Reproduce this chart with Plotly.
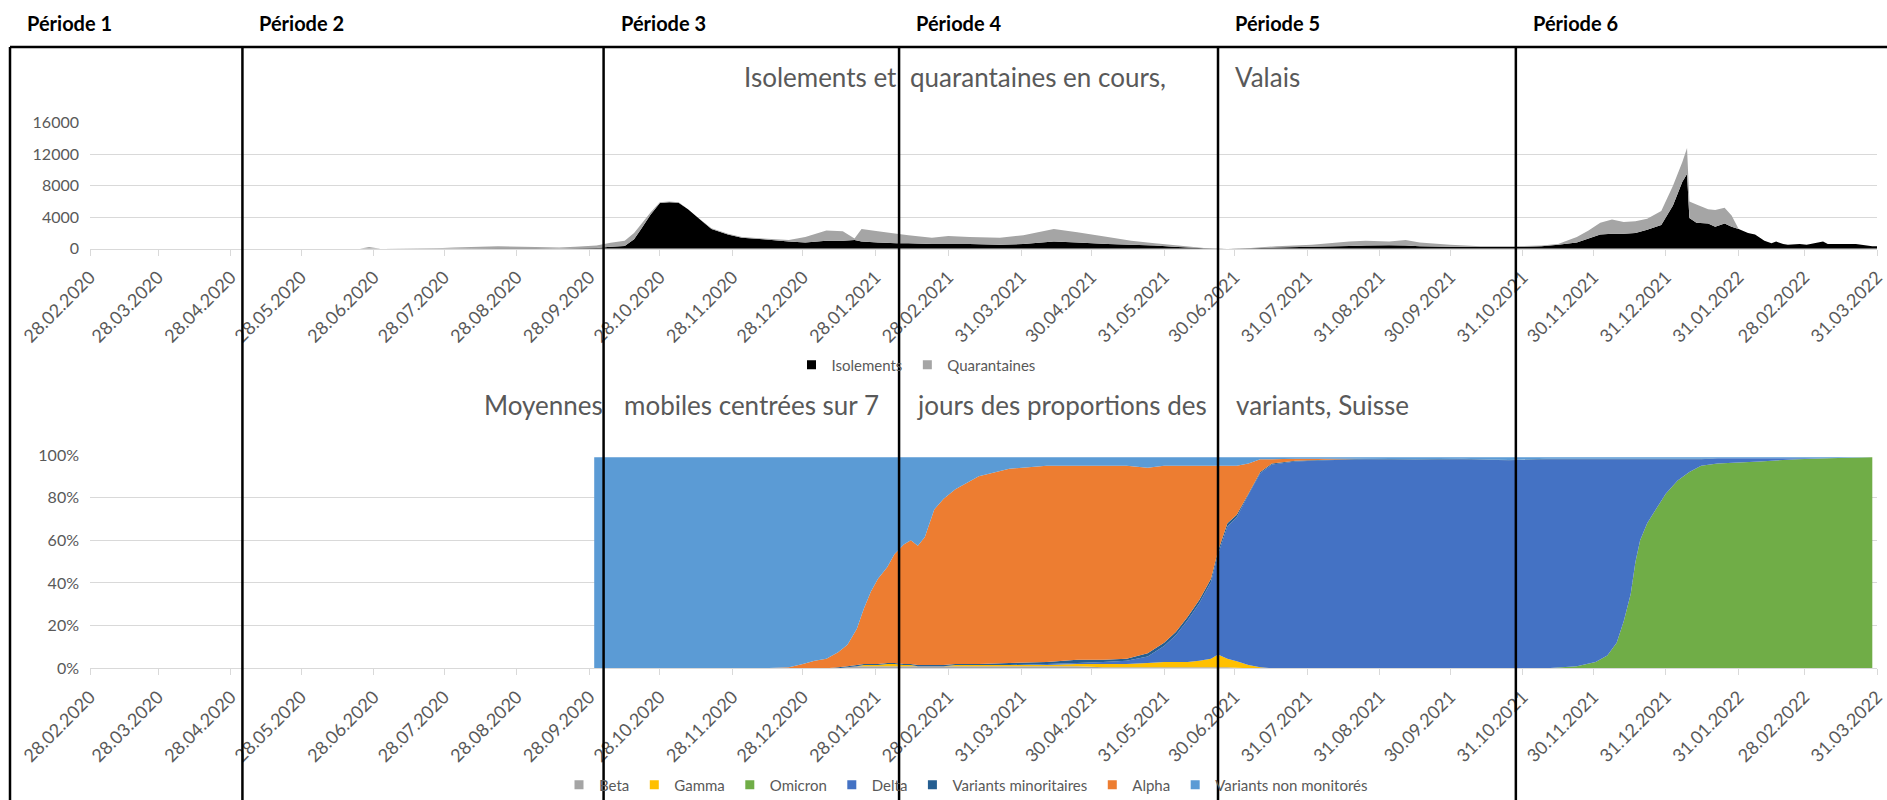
import plotly.graph_objects as go

W, H = 1887, 800
FONT = "Lato, 'Open Sans', 'Liberation Sans', sans-serif"
TXT = "#595959"
GRID = "#D9D9D9"

# ---- Isolements et quarantaines en cours, Valais ----
iso_dates = [
    "2020-02-28", "2020-06-22", "2020-06-26", "2020-07-01", "2020-07-25", "2020-08-01",
    "2020-08-20", "2020-09-05", "2020-09-15", "2020-09-22", "2020-10-01", "2020-10-07",
    "2020-10-13", "2020-10-17", "2020-10-20", "2020-10-24", "2020-10-28", "2020-11-01",
    "2020-11-05", "2020-11-09", "2020-11-13", "2020-11-19", "2020-11-26", "2020-12-02",
    "2020-12-11", "2020-12-22", "2020-12-29", "2021-01-07", "2021-01-14", "2021-01-19",
    "2021-01-22", "2021-01-29", "2021-02-06", "2021-02-11", "2021-02-21", "2021-02-28",
    "2021-03-09", "2021-03-22", "2021-04-01", "2021-04-14", "2021-04-24", "2021-05-07",
    "2021-05-17", "2021-05-27", "2021-06-06", "2021-06-17", "2021-06-27", "2021-07-07",
    "2021-07-18", "2021-08-02", "2021-08-18", "2021-08-25", "2021-09-04", "2021-09-11",
    "2021-09-17", "2021-09-30", "2021-10-13", "2021-10-26", "2021-11-08", "2021-11-15",
    "2021-11-23", "2021-11-28", "2021-12-03", "2021-12-08", "2021-12-13", "2021-12-18",
    "2021-12-23", "2021-12-29", "2022-01-03", "2022-01-07", "2022-01-09", "2022-01-10",
    "2022-01-13", "2022-01-18", "2022-01-21", "2022-01-25", "2022-01-28", "2022-01-31",
    "2022-02-04", "2022-02-07", "2022-02-11", "2022-02-14", "2022-02-16", "2022-02-19",
    "2022-02-21", "2022-02-26", "2022-03-01", "2022-03-08", "2022-03-10", "2022-03-16",
    "2022-03-22", "2022-03-29", "2022-03-31",
]
isolements = [
    0, 0, 20, 0, 10, 30,
    60, 50, 40, 60, 100, 250,
    350, 1200, 2500, 4300, 5800, 5900,
    5850, 5000, 4000, 2500, 1800, 1400,
    1200, 900, 800, 1000, 1000, 1100,
    900, 800, 700, 700, 600, 600,
    600, 500, 600, 900, 800, 600,
    500, 400, 200, 50, 0, 50,
    150, 250, 350, 400, 450, 400,
    300, 250, 200, 200, 300, 500,
    800, 1300, 1800, 1900, 1900, 2000,
    2400, 3000, 5500, 8500, 9500, 3900,
    3300, 3200, 2800, 3200, 2800, 2500,
    2000, 1800, 1000, 700, 900, 600,
    500, 600, 500, 900, 600, 600,
    600, 300, 300,
]
quarantaines = [
    0, 0, 180, 0, 40, 120,
    240, 150, 110, 190, 300, 500,
    650, 800, 600, 300, 100, 100,
    50, 0, 0, 100, 100, 100,
    100, 200, 700, 1300, 1200, 200,
    1600, 1400, 1200, 1000, 800, 1000,
    900, 900, 1100, 1600, 1300, 900,
    500, 300, 200, 50, 0, 50,
    150, 250, 550, 600, 450, 700,
    500, 250, 100, 100, 100, 100,
    700, 1000, 1500, 1800, 1500, 1500,
    1400, 1800, 2500, 2500, 3300, 2100,
    2300, 1800, 2100, 2000, 1400, 0,
    0, 0, 0, 0, 0, 0,
    0, 0, 0, 0, 0, 0,
    0, 0, 0,
]

# ---- Moyennes mobiles centrées sur 7 jours des proportions des variants, Suisse (%) ----
var_dates = [
    "2020-09-30", "2020-10-15", "2020-11-01", "2020-11-20", "2020-12-10", "2020-12-22",
    "2020-12-28", "2021-01-02", "2021-01-07", "2021-01-12", "2021-01-16", "2021-01-20",
    "2021-01-23", "2021-01-26", "2021-01-29", "2021-02-02", "2021-02-05", "2021-02-09",
    "2021-02-12", "2021-02-15", "2021-02-18", "2021-02-22", "2021-02-26", "2021-03-03",
    "2021-03-13", "2021-03-26", "2021-04-11", "2021-04-24", "2021-05-05", "2021-05-15",
    "2021-05-24", "2021-05-31", "2021-06-05", "2021-06-10", "2021-06-15", "2021-06-20",
    "2021-06-23", "2021-06-27", "2021-07-01", "2021-07-06", "2021-07-11", "2021-07-16",
    "2021-07-26", "2021-08-08", "2021-08-25", "2021-09-15", "2021-10-05", "2021-10-25",
    "2021-11-10", "2021-11-23", "2021-12-01", "2021-12-06", "2021-12-10", "2021-12-13",
    "2021-12-16", "2021-12-18", "2021-12-20", "2021-12-23", "2021-12-27", "2021-12-31",
    "2022-01-05", "2022-01-10", "2022-01-15", "2022-01-22", "2022-02-09", "2022-02-25",
    "2022-03-10", "2022-03-29",
]
beta = [
    0, 0, 0, 0, 0, 0, 0, 0, 0, 0,
    0.5, 1, 1, 1, 1, 1, 1, 1, 1, 1,
    1, 1, 1, 1, 1, 1, 1, 1, 0.5, 0.5,
    0.5, 0.5, 0.5, 0.5, 0.5, 0.5, 0.5, 0.5, 0.3, 0,
    0, 0, 0, 0, 0, 0, 0, 0, 0, 0,
    0, 0, 0, 0, 0, 0, 0, 0, 0, 0,
    0, 0, 0, 0, 0, 0, 0, 0,
]
gamma = [
    0, 0, 0, 0, 0, 0, 0, 0, 0, 0,
    0, 0, 0.5, 0.5, 0.5, 1, 1, 0.5, 0.5, 0,
    0, 0, 0, 0.5, 0.5, 0.5, 0.5, 1, 1.5, 1.5,
    2, 2.5, 2.5, 2.5, 3, 4, 6, 4, 3, 1.5,
    0.5, 0, 0, 0, 0, 0, 0, 0, 0, 0,
    0, 0, 0, 0, 0, 0, 0, 0, 0, 0,
    0, 0, 0, 0, 0, 0, 0, 0,
]
omicron = [
    0, 0, 0, 0, 0, 0, 0, 0, 0, 0,
    0, 0, 0, 0, 0, 0, 0, 0, 0, 0,
    0, 0, 0, 0, 0, 0, 0, 0, 0, 0,
    0, 0, 0, 0, 0, 0, 0, 0, 0, 0,
    0, 0, 0, 0, 0, 0, 0, 0, 0, 1,
    3, 6, 12, 22, 35, 50, 60, 68, 75, 82,
    88, 92, 95, 96, 97, 98, 98.5, 99,
]
delta = [
    0, 0, 0, 0, 0, 0, 0, 0, 0, 0,
    0, 0, 0, 0, 0, 0, 0, 0, 0, 0,
    0, 0, 0, 0, 0, 0, 0.5, 0.5, 1, 1.5,
    3, 7.5, 12.5, 19.5, 27, 36, 47, 62, 67.5, 80,
    91, 95.5, 97, 97.5, 98, 97.8, 98, 97.5, 98, 97,
    95, 92, 86, 76, 63, 48, 38, 30, 23, 16,
    10, 6, 3, 2.5, 1.5, 0.5, 0, 0,
]
minoritaires = [
    0, 0, 0, 0, 0, 0, 0, 0, 0, 0.5,
    0.5, 0.5, 0.5, 0.5, 0.5, 0.5, 0.5, 0.5, 0.5, 0.5,
    0.5, 0.5, 0.5, 0.5, 0.5, 1, 1, 1.5, 1, 1,
    1.5, 1.5, 1.5, 1.5, 1.5, 1.5, 1.5, 1.5, 1.2, 0.5,
    0.5, 0.5, 0.3, 0.3, 0.2, 0.2, 0.2, 0.2, 0.2, 0.2,
    0.2, 0.2, 0.2, 0.2, 0.2, 0.2, 0.2, 0.2, 0.2, 0.2,
    0.2, 0.2, 0.2, 0, 0, 0, 0, 0,
]
alpha = [
    0, 0, 0, 0, 0, 0.5, 2, 3.5, 4.5, 7,
    10, 17, 26, 34, 40, 45, 51, 56, 58, 56,
    60, 73, 78, 82, 88, 91, 92, 91, 91, 90.5,
    87, 83, 78, 71, 63, 53, 40, 27, 23, 14,
    6, 2, 1, 0.5, 0, 0, 0, 0, 0, 0,
    0, 0, 0, 0, 0, 0, 0, 0, 0, 0,
    0, 0, 0, 0, 0, 0, 0, 0,
]
non_monitores = [
    99, 99, 99, 99, 99, 98.5, 97, 95.5, 94.5, 91.5,
    88, 80.5, 71, 63, 57, 51.5, 45.5, 41, 39, 41.5,
    37.5, 24.5, 19.5, 15, 9, 5.5, 4, 4, 4, 4,
    5, 4, 4, 4, 4, 4, 4, 4, 4, 3,
    1, 1, 0.7, 0.7, 0.8, 1, 0.8, 1.3, 0.8, 0.8,
    0.8, 0.8, 0.8, 0.8, 0.8, 0.8, 0.8, 0.8, 0.8, 0.8,
    0.8, 0.8, 0.8, 0.5, 0.5, 0.5, 0.5, 0,
]

variant_names = ["Beta", "Gamma", "Omicron", "Delta", "Variants minoritaires",
                 "Alpha", "Variants non monitorés"]
variant_values = [beta, gamma, omicron, delta, minoritaires, alpha, non_monitores]
variant_colors = ["#A5A5A5", "#FFC000", "#70AD47", "#4472C4", "#255E91",
                  "#ED7D31", "#5B9BD5"]

# ---- shared date axis ----
tick_dates = [
    "2020-02-28", "2020-03-28", "2020-04-28", "2020-05-28", "2020-06-28", "2020-07-28",
    "2020-08-28", "2020-09-28", "2020-10-28", "2020-11-28", "2020-12-28", "2021-01-28",
    "2021-02-28", "2021-03-31", "2021-04-30", "2021-05-31", "2021-06-30", "2021-07-31",
    "2021-08-31", "2021-09-30", "2021-10-31", "2021-11-30", "2021-12-31", "2022-01-31",
    "2022-02-28", "2022-03-31",
]
tick_labels = [d[8:10] + "." + d[5:7] + "." + d[0:4] for d in tick_dates]
x_range = ["2020-02-28", "2022-03-31"]

# ---- periods ----
period_names = ["Période 1", "Période 2", "Période 3", "Période 4", "Période 5", "Période 6"]
period_starts = ["2020-05-03", "2020-10-04", "2021-02-07", "2021-06-23", "2021-10-28"]


def px_x(p):
    return p / W


def px_y(p):
    return 1 - p / H


fig = go.Figure()

# top chart: stacked areas
fig.add_trace(go.Scatter(
    x=iso_dates, y=isolements, name="Isolements", stackgroup="iq",
    line=dict(width=0), fillcolor="#000000", mode="none",
    xaxis="x", yaxis="y", showlegend=False, hoverinfo="skip"))
fig.add_trace(go.Scatter(
    x=iso_dates, y=quarantaines, name="Quarantaines", stackgroup="iq",
    line=dict(width=0), fillcolor="#A5A5A5", mode="none",
    xaxis="x", yaxis="y", showlegend=False, hoverinfo="skip"))

# bottom chart: stacked variant shares
for name, vals, col in zip(variant_names, variant_values, variant_colors):
    fig.add_trace(go.Scatter(
        x=var_dates, y=vals, name=name, stackgroup="var",
        line=dict(width=0), fillcolor=col, mode="none",
        xaxis="x2", yaxis="y2", showlegend=False, hoverinfo="skip"))

# legend entries (square keys)
for name, col in [("Isolements", "#000000"), ("Quarantaines", "#A5A5A5")]:
    fig.add_trace(go.Scatter(
        x=[None], y=[None], mode="markers", name=name, legend="legend",
        marker=dict(symbol="square", size=9, color=col), xaxis="x", yaxis="y"))
for name, col in zip(variant_names, variant_colors):
    fig.add_trace(go.Scatter(
        x=[None], y=[None], mode="markers", name=name, legend="legend2",
        marker=dict(symbol="square", size=9, color=col), xaxis="x2", yaxis="y2"))

xdom = [px_x(90), px_x(1877)]
common_x = dict(
    type="date", range=x_range, domain=xdom, automargin=False,
    tickmode="array", tickvals=tick_dates, ticktext=tick_labels,
    tickangle=-45, tickfont=dict(family=FONT, size=18, color=TXT),
    ticklabelstandoff=4,
    ticks="outside", ticklen=6, tickcolor=GRID, tickwidth=1,
    showgrid=False, showline=True, linecolor=GRID, linewidth=1,
    zeroline=False, fixedrange=True,
)
common_y = dict(
    showgrid=True, gridcolor=GRID, gridwidth=1, zeroline=False, automargin=False,
    showline=False, ticks="", tickfont=dict(family=FONT, size=16, color=TXT),
    ticklabelstandoff=10, fixedrange=True,
)

fig.update_layout(
    width=W, height=H,
    margin=dict(l=0, r=0, t=0, b=0, autoexpand=False),
    paper_bgcolor="white", plot_bgcolor="white",
    font=dict(family=FONT, color=TXT),
    xaxis=dict(**common_x, anchor="y"),
    yaxis=dict(**common_y, anchor="x", range=[0, 16000], dtick=4000, tickformat="d",
               domain=[px_y(248.7), px_y(122.7)]),
    xaxis2=dict(**common_x, anchor="y2"),
    yaxis2=dict(**common_y, anchor="x2", range=[0, 100], dtick=20, ticksuffix="%",
                domain=[px_y(668.3), px_y(455)]),
    legend=dict(orientation="h", x=px_x(916), y=px_y(365), xanchor="center",
                yanchor="middle", font=dict(family=FONT, size=15, color=TXT),
                bgcolor="rgba(0,0,0,0)", itemwidth=30, traceorder="normal"),
    legend2=dict(orientation="h", x=px_x(966), y=px_y(785), xanchor="center",
                 yanchor="middle", font=dict(family=FONT, size=15, color=TXT),
                 bgcolor="rgba(0,0,0,0)", itemwidth=30, traceorder="normal"),
    showlegend=True,
)

# chart titles
title_parts = [
    ("Isolements et", 742, 77),
    ("quarantaines en cours,", 908, 77),
    ("Valais", 1233, 77),
    ("Moyennes", 482, 405),
    ("mobiles centrées sur 7", 622, 405),
    ("jours des proportions des", 915, 405),
    ("variants, Suisse", 1234, 405),
]
for txt, x, y in title_parts:
    fig.add_annotation(text=txt, xref="paper", yref="paper", x=px_x(x), y=px_y(y),
                       xanchor="left", yanchor="middle", showarrow=False,
                       font=dict(family=FONT, size=26, color=TXT))

# period frame: top rule, left border and dividers
line_style = dict(color="black", width=2.5)
top_y = px_y(47)
fig.add_shape(type="line", xref="paper", yref="paper", x0=px_x(10), x1=1,
              y0=top_y, y1=top_y, line=line_style, layer="above")
fig.add_shape(type="line", xref="paper", yref="paper", x0=px_x(10), x1=px_x(10),
              y0=0, y1=top_y, line=line_style, layer="above")
for d in period_starts:
    fig.add_shape(type="line", xref="x", yref="paper", x0=d, x1=d,
                  y0=0, y1=top_y, line=line_style, layer="above")

# period labels
fig.add_annotation(text="<b>" + period_names[0] + "</b>", xref="paper", yref="paper",
                   x=px_x(25), y=px_y(23), xanchor="left", yanchor="middle",
                   showarrow=False, font=dict(family=FONT, size=20, color="black"))
for name, d in zip(period_names[1:], period_starts):
    fig.add_annotation(text="<b>" + name + "</b>", xref="x", yref="paper",
                       x=d, y=px_y(23), xanchor="left", yanchor="middle", xshift=15,
                       showarrow=False, font=dict(family=FONT, size=20, color="black"))

fig.write_html("out.html")
